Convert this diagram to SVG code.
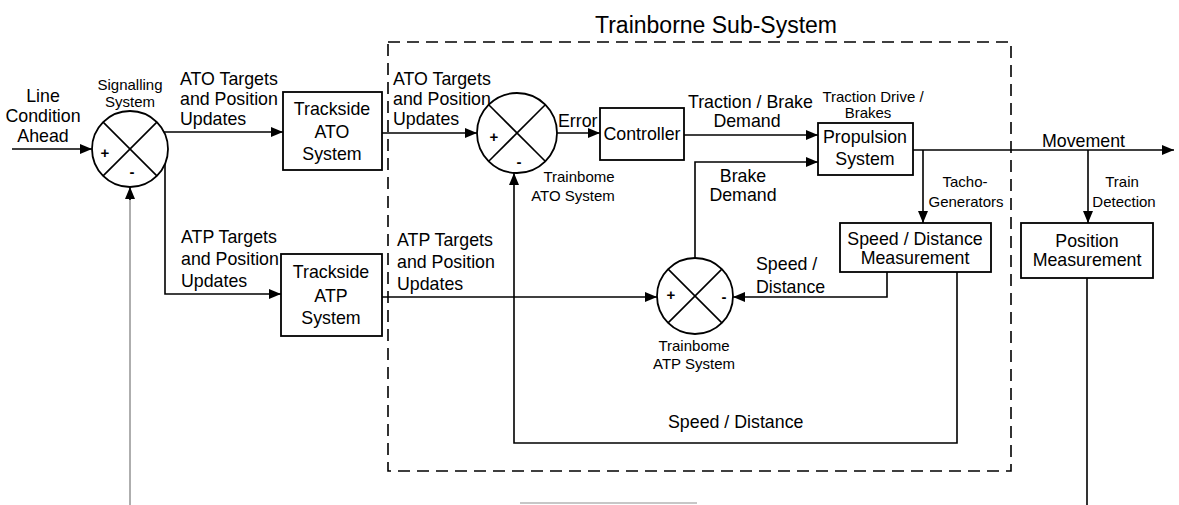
<svg xmlns="http://www.w3.org/2000/svg" width="1179" height="505" viewBox="0 0 1179 505">
<defs>
<marker id="arr" viewBox="0 0 12 10" refX="12" refY="5" markerWidth="12" markerHeight="10" markerUnits="userSpaceOnUse" orient="auto">
<path d="M0,0 L12,5 L0,10 Z" fill="#000"/>
</marker>
<style>
text{font-family:"Liberation Sans",Arial,sans-serif;fill:#000}
.m{font-size:17.8px}
.s{font-size:15px}
.c{text-anchor:middle}
.t{font-size:23px}
.sg{font-size:15px;font-weight:bold}
.box{fill:#fff;stroke:#000;stroke-width:1.8}
.circ{fill:#fff;stroke:#000;stroke-width:1.8}
.x{stroke:#000;stroke-width:1.6}
.ln{fill:none;stroke:#000;stroke-width:1.6}
.grey{fill:none;stroke:#9a9a9a;stroke-width:1.6}
.dash{fill:none;stroke:#000;stroke-width:1.6;stroke-dasharray:12 7}
</style>
</defs>
<rect width="1179" height="505" fill="#fff"/>

<g id="trainborne-subsystem">
<rect class="dash" x="388" y="42" width="623" height="429"/>
<text class="t" x="595" y="33">Trainborne Sub-System</text>
</g>

<g id="connectors">
<line class="ln" x1="12" y1="149" x2="92" y2="149" marker-end="url(#arr)"/>
<line class="ln" x1="164" y1="132" x2="283" y2="132" marker-end="url(#arr)"/>
<polyline class="ln" points="165,164 165,294 281,294" marker-end="url(#arr)"/>
<line class="ln" x1="382" y1="133" x2="477" y2="133" marker-end="url(#arr)"/>
<line class="ln" x1="557" y1="133" x2="600" y2="133" marker-end="url(#arr)"/>
<line class="ln" x1="684" y1="135" x2="818" y2="135" marker-end="url(#arr)"/>
<polyline class="ln" points="695,258 695,162 818,162" marker-end="url(#arr)"/>
<line class="ln" x1="913" y1="150" x2="1174" y2="150" marker-end="url(#arr)"/>
<line class="ln" x1="923" y1="150" x2="923" y2="223" marker-end="url(#arr)"/>
<line class="ln" x1="1088" y1="150" x2="1088" y2="223" marker-end="url(#arr)"/>
<line class="ln" x1="382" y1="297" x2="657" y2="297" marker-end="url(#arr)"/>
<polyline class="ln" points="887,272 887,297 733,297" marker-end="url(#arr)"/>
<polyline class="ln" points="957,272 957,443 514,443 514,173" marker-end="url(#arr)"/>
<line class="ln" x1="1087" y1="278" x2="1087" y2="505"/>
<line class="grey" x1="130" y1="505" x2="130" y2="198"/>
<line class="ln" x1="130" y1="200" x2="130" y2="187" marker-end="url(#arr)"/>
<line stroke="#b5b5b5" stroke-width="1.5" x1="520" y1="503" x2="697" y2="503"/>
</g>

<g id="line-condition-label">
<text class="m c" x="43" y="102">Line</text>
<text class="m c" x="43" y="122">Condition</text>
<text class="m c" x="43" y="142">Ahead</text>
</g>

<g id="signalling-system">
<circle class="circ" cx="130" cy="149" r="38"/>
<line class="x" x1="103.1" y1="122.1" x2="156.9" y2="175.9"/>
<line class="x" x1="156.9" y1="122.1" x2="103.1" y2="175.9"/>
<text class="sg c" x="105" y="158">+</text>
<text class="sg c" x="132" y="177">-</text>
<text class="s c" x="130" y="90">Signalling</text>
<text class="s c" x="130" y="107">System</text>
</g>

<g id="ato-labels-outer">
<text class="m" x="180" y="85">ATO Targets</text>
<text class="m" x="180" y="105">and Position</text>
<text class="m" x="180" y="125">Updates</text>
</g>

<g id="trackside-ato">
<rect class="box" x="283" y="92" width="99" height="78"/>
<text class="m c" x="332" y="115">Trackside</text>
<text class="m c" x="332" y="138">ATO</text>
<text class="m c" x="332" y="160">System</text>
</g>

<g id="atp-labels-outer">
<text class="m" x="181" y="243">ATP Targets</text>
<text class="m" x="181" y="265">and Position</text>
<text class="m" x="181" y="287">Updates</text>
</g>

<g id="trackside-atp">
<rect class="box" x="281" y="254" width="101" height="82"/>
<text class="m c" x="331" y="278">Trackside</text>
<text class="m c" x="331" y="302">ATP</text>
<text class="m c" x="331" y="324">System</text>
</g>

<g id="ato-labels-inner">
<text class="m" x="393" y="85">ATO Targets</text>
<text class="m" x="393" y="105">and Position</text>
<text class="m" x="393" y="125">Updates</text>
</g>

<g id="atp-labels-inner">
<text class="m" x="397" y="246">ATP Targets</text>
<text class="m" x="397" y="268">and Position</text>
<text class="m" x="397" y="290">Updates</text>
</g>

<g id="trainborne-ato">
<circle class="circ" cx="517" cy="133" r="40"/>
<line class="x" x1="488.7" y1="104.7" x2="545.3" y2="161.3"/>
<line class="x" x1="545.3" y1="104.7" x2="488.7" y2="161.3"/>
<text class="sg c" x="494" y="142">+</text>
<text class="sg c" x="519" y="167">-</text>
<text class="s c" x="579" y="182">Trainbome</text>
<text class="s c" x="573" y="201">ATO System</text>
</g>

<g id="error-label">
<text class="m" x="558" y="127">Error</text>
</g>

<g id="controller">
<rect class="box" x="600" y="108" width="84" height="52"/>
<text class="m c" x="642" y="140">Controller</text>
</g>

<g id="traction-labels">
<text class="m" x="688" y="108">Traction / Brake</text>
<text class="m c" x="747" y="127">Demand</text>
<text class="m c" x="743" y="182">Brake</text>
<text class="m c" x="743" y="201">Demand</text>
</g>

<g id="propulsion-system">
<rect class="box" x="818" y="123" width="95" height="52"/>
<text class="m c" x="865" y="143">Propulsion</text>
<text class="m c" x="865" y="165">System</text>
<text class="s c" x="873" y="102">Traction Drive /</text>
<text class="s c" x="868" y="118">Brakes</text>
</g>

<g id="movement-label">
<text class="m" x="1042" y="147">Movement</text>
<text class="s c" x="965" y="187">Tacho-</text>
<text class="s c" x="966" y="207">Generators</text>
<text class="s c" x="1122" y="187">Train</text>
<text class="s c" x="1124" y="207">Detection</text>
</g>

<g id="speed-distance-measurement">
<rect class="box" x="840" y="223" width="151" height="49"/>
<text class="m c" x="915" y="245">Speed / Distance</text>
<text class="m c" x="915" y="264">Measurement</text>
</g>

<g id="position-measurement">
<rect class="box" x="1021" y="223" width="132" height="55"/>
<text class="m c" x="1087" y="247">Position</text>
<text class="m c" x="1087" y="266">Measurement</text>
</g>

<g id="trainborne-atp">
<circle class="circ" cx="695" cy="296" r="38"/>
<line class="x" x1="668.1" y1="269.1" x2="721.9" y2="322.9"/>
<line class="x" x1="721.9" y1="269.1" x2="668.1" y2="322.9"/>
<text class="sg c" x="671" y="300">+</text>
<text class="sg c" x="724" y="302">-</text>
<text class="s c" x="694" y="351">Trainbome</text>
<text class="s c" x="694" y="369">ATP System</text>
</g>

<g id="speed-labels">
<text class="m" x="756" y="270">Speed /</text>
<text class="m" x="756" y="293">Distance</text>
<text class="m" x="668" y="428">Speed / Distance</text>
</g>
</svg>
